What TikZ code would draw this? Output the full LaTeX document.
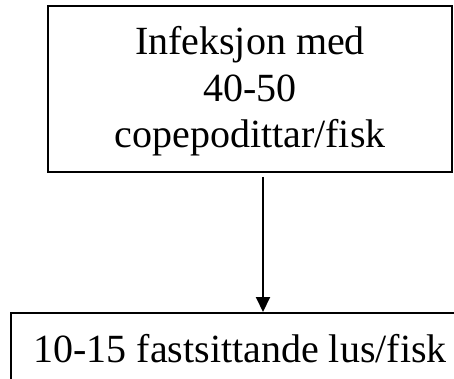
\documentclass[tikz,border=0pt]{standalone}
\usepackage{fontspec}
\setmainfont{Liberation Serif}
\usetikzlibrary{arrows.meta}
\begin{document}
\begin{tikzpicture}[x=1pt,y=-1pt,
  box/.style={draw, line width=2pt, inner sep=0pt},
  lbl/.style={font=\fontsize{40}{46}\selectfont, anchor=base, inner sep=0pt},
  conn/.style={line width=2pt, -{Triangle[width=14pt,length=15pt]}}]
\useasboundingbox (0,0) rectangle (454,379);
\clip (0,0) rectangle (454,379);
\node[box, minimum width=404pt, minimum height=166pt] (top) at (250,89) {};
\node[lbl] (t1) at (250,55) {Infeksjon med};
\node[lbl] (t2) at (250,102) {40-50};
\node[lbl] (t3) at (250,148) {copepodittar/fisk};
\node[box, minimum width=459pt, minimum height=90pt] (bot) at (240.5,358) {};
\node[lbl] (b1) at (240,362) {10-15 fastsittande lus/fisk};
\coordinate (a) at (263,177);
\draw[conn] (a) -- (a |- bot.north);
\end{tikzpicture}
\end{document}
